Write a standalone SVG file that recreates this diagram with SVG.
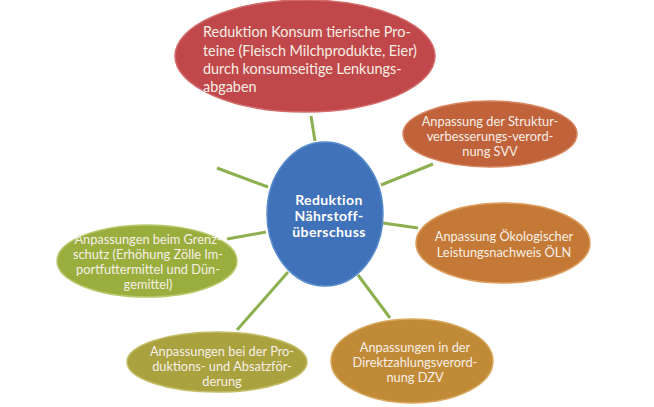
<svg xmlns="http://www.w3.org/2000/svg" width="654" height="407" viewBox="0 0 654 407">
<style>
.c{stroke:#8cb050;stroke-width:3;fill:none}
.t{font-family:Lato,"Open Sans",sans-serif;font-size:12.8px;fill:#f7eee6}
.m{text-anchor:middle}
.b{font-family:Lato,"Open Sans",sans-serif;font-size:14px;font-weight:bold;fill:#ffffff;text-anchor:middle}
.e{stroke-width:1.5}
</style>
<rect width="654" height="407" fill="#ffffff"/>
<g id="connectors">
<line class="c" x1="311" y1="116" x2="315" y2="141"/>
<line class="c" x1="217" y1="168" x2="268" y2="187"/>
<line class="c" x1="227" y1="239" x2="266" y2="232"/>
<line class="c" x1="237" y1="330" x2="288" y2="272"/>
<line class="c" x1="358" y1="275" x2="390" y2="318"/>
<line class="c" x1="383" y1="223" x2="418" y2="228"/>
<line class="c" x1="381" y1="185" x2="433" y2="164"/>
</g>
<g id="center">
<ellipse cx="325" cy="214" rx="58" ry="72" fill="#3f72b8" stroke="#5a8ccc" class="e"/>
<text class="b" x="329" y="205" style="letter-spacing:0.4px">Reduktion</text>
<text class="b" x="329" y="221" style="letter-spacing:0.4px">Nährstoff-</text>
<text class="b" x="329" y="237" style="letter-spacing:0.4px">überschuss</text>
</g>
<g id="konsum">
<ellipse cx="305" cy="56" rx="130" ry="56" fill="#c0484a" stroke="#d46a6a" class="e"/>
<text class="t" style="font-size:14.4px" x="203" y="37">Reduktion Konsum tierische Pro-</text>
<text class="t" style="font-size:14.4px" x="203" y="56">teine (Fleisch Milchprodukte, Eier)</text>
<text class="t" style="font-size:14.4px" x="203" y="74">durch konsumseitige Lenkungs-</text>
<text class="t" style="font-size:14.4px" x="203" y="92">abgaben</text>
</g>
<g id="svv">
<ellipse cx="490" cy="134" rx="87" ry="33" fill="#c0623a" stroke="#d88660" class="e"/>
<text class="t m" x="490" y="126">Anpassung der Struktur-</text>
<text class="t m" x="490" y="141">verbesserungs-verord-</text>
<text class="t m" x="490" y="156">nung SVV</text>
</g>
<g id="oeln">
<ellipse cx="503" cy="243" rx="87" ry="40" fill="#c47a36" stroke="#dc9d5e" class="e"/>
<text class="t m" x="504" y="241">Anpassung Ökologischer</text>
<text class="t m" x="504" y="257">Leistungsnachweis ÖLN</text>
</g>
<g id="dzv">
<ellipse cx="412" cy="361" rx="81" ry="42" fill="#c08a36" stroke="#d8aa60" class="e"/>
<text class="t m" x="415" y="352">Anpassungen in der</text>
<text class="t m" x="415" y="367">Direktzahlungsverord-</text>
<text class="t m" x="415" y="382">nung DZV</text>
</g>
<g id="produktion">
<ellipse cx="217" cy="362" rx="90" ry="30" fill="#a9a23f" stroke="#c4be6a" class="e"/>
<text class="t m" x="222" y="356">Anpassungen bei der Pro-</text>
<text class="t m" x="222" y="371">duktions- und Absatzför-</text>
<text class="t m" x="222" y="386">derung</text>
</g>
<g id="grenzschutz">
<ellipse cx="147" cy="261" rx="90" ry="36" fill="#9aae3e" stroke="#b8c86c" class="e"/>
<text class="t m" x="148" y="244">Anpassungen beim Grenz-</text>
<text class="t m" x="148" y="259">schutz (Erhöhung Zölle Im-</text>
<text class="t m" x="148" y="274">portfuttermittel und Dün-</text>
<text class="t m" x="148" y="289">gemittel)</text>
</g>
</svg>
